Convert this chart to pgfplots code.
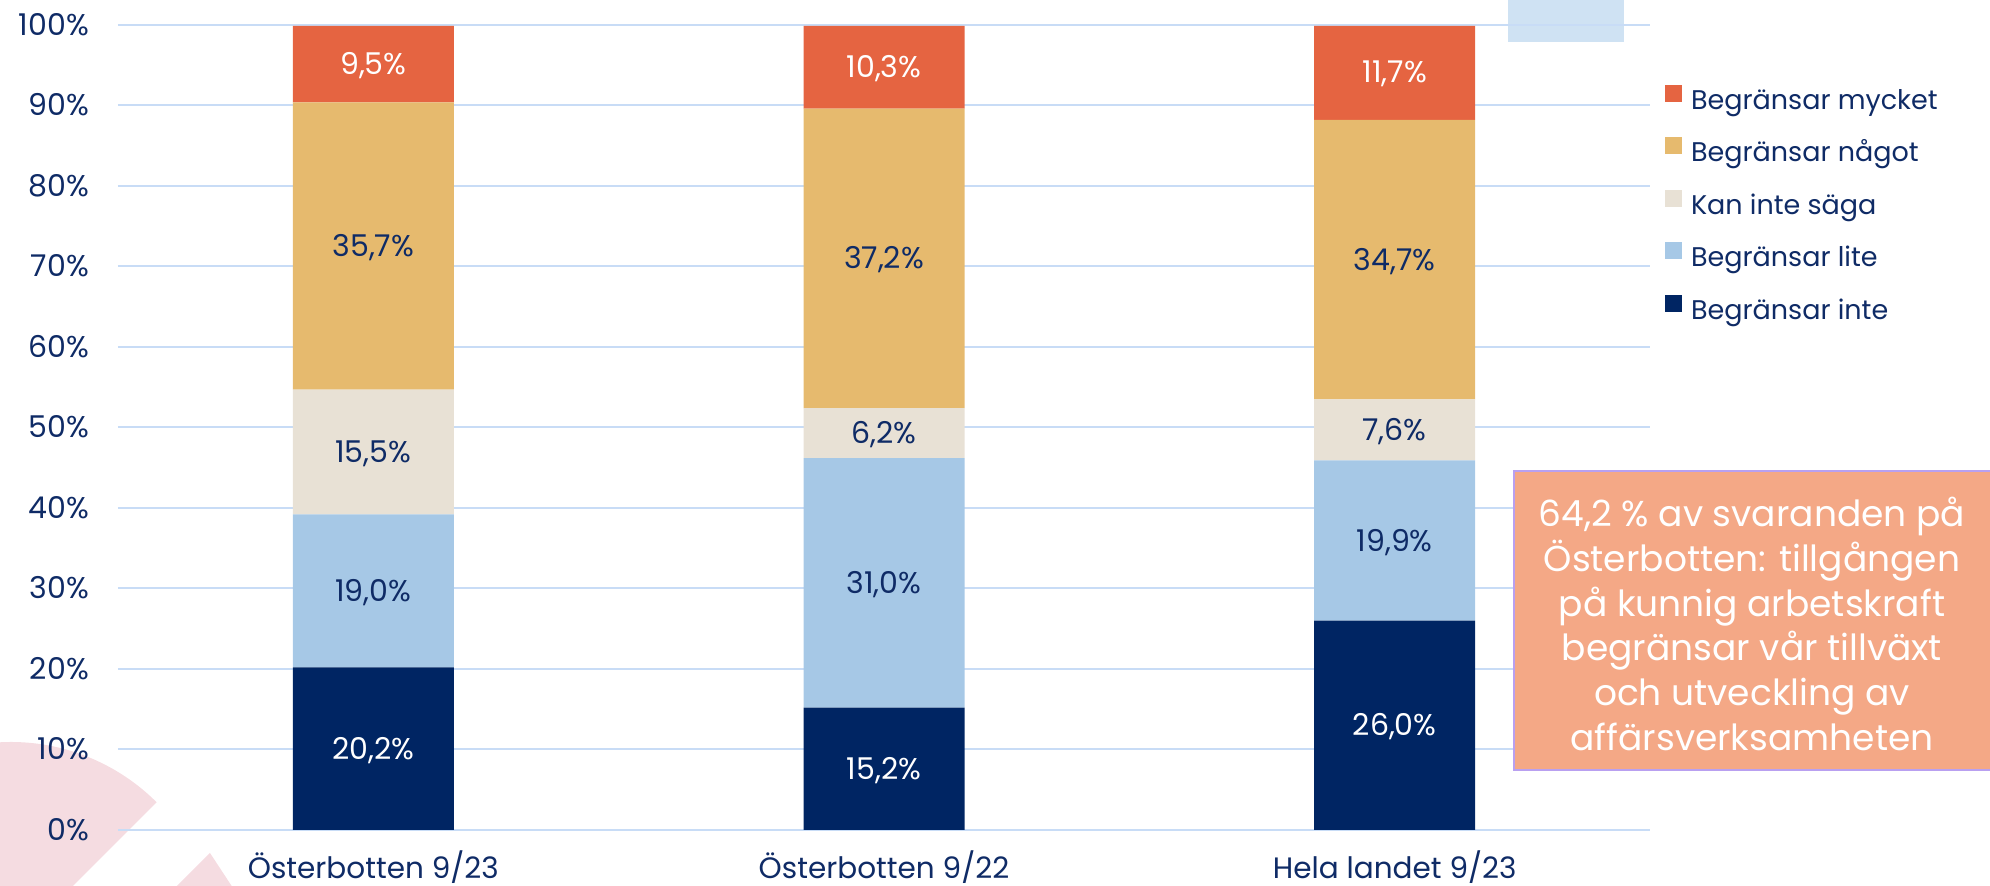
\documentclass[border=0pt]{standalone}
\usepackage{pgfplots}
\pgfplotsset{compat=1.18}
\usepackage{fontspec}
\setmainfont{Poppins}
\definecolor{cMycket}{RGB}{229,100,65}
\definecolor{cNagot}{RGB}{230,186,110}
\definecolor{cKan}{RGB}{232,225,213}
\definecolor{cLite}{RGB}{166,200,230}
\definecolor{cInte}{RGB}{0,37,99}
\definecolor{cText}{RGB}{15,43,102}
\definecolor{cGrid}{RGB}{200,220,246}
\definecolor{cPink}{RGB}{245,220,225}
\definecolor{cRect}{RGB}{207,226,243}
\definecolor{cBox}{RGB}{244,168,134}
\definecolor{cBoxLine}{RGB}{185,160,240}
\pgfplotsset{
  common/.style={
    at={(118pt,56pt)}, anchor=south west,
    width=1532pt, height=805pt, scale only axis,
    xmin=-0.5, xmax=2.5, ymin=0, ymax=100, clip=false,
  },
  lbl/.style={only marks, mark=none, nodes near coords, point meta=explicit symbolic,
    every node near coord/.append style={anchor=center, text=#1,
      font=\fontsize{30}{36}\selectfont, inner sep=0pt, text height=21pt, text depth=0pt}},
}
\begin{document}
\begin{tikzpicture}[x=1pt,y=1pt]
\useasboundingbox (0,0) rectangle (1990,886);
\fill[cPink] (11,-62) -- ++(45:206) arc[start angle=45,end angle=100,radius=206] -- cycle;
\fill[cPink] (210,33) -- (143,-34) -- (254,-34) -- cycle;
\fill[cRect] (1508,844) rectangle (1624,890);
\begin{axis}[common,
  ybar stacked, bar width=161pt, bar shift=0pt,
  axis line style={draw=none}, major tick length=0pt,
  ytick={0,10,20,30,40,50,60,70,80,90,100},
  yticklabels={0\%,10\%,20\%,30\%,40\%,50\%,60\%,70\%,80\%,90\%,100\%},
  ymajorgrids, grid style={line width=2pt, cGrid},
  xtick={0,1,2},
  xticklabels={Österbotten 9/23,Österbotten 9/22,Hela landet 9/23},
  yticklabel style={anchor=east, inner sep=0pt, xshift=-29pt,
    font=\fontsize{30}{36}\selectfont, text=cText, text height=21pt, text depth=0pt},
  xticklabel style={anchor=center, inner sep=0pt, yshift=-39pt,
    font=\fontsize{29.5}{35}\selectfont, text=cText, text height=20pt, text depth=0pt},
  legend style={at={(1.00979,0.92547)}, anchor=north west, draw=none, fill=none,
    inner sep=0pt, outer sep=0pt, font=\fontsize{27}{32}\selectfont, text=cText,
    nodes={inner sep=0pt, text height=20pt, text depth=7pt},
    row sep=21pt, column sep=9pt, cells={anchor=west}},
  legend cell align=left,
  reverse legend,
  legend image code/.code={\fill[#1] (0pt,1pt) rectangle (17pt,18pt);},
]
\addplot[fill=cInte, draw=none] coordinates {(0,20.2) (1,15.2) (2,26.0)};
\addplot[fill=cLite, draw=none] coordinates {(0,19.0) (1,31.0) (2,19.9)};
\addplot[fill=cKan, draw=none] coordinates {(0,15.5) (1,6.2) (2,7.6)};
\addplot[fill=cNagot, draw=none] coordinates {(0,35.7) (1,37.2) (2,34.7)};
\addplot[fill=cMycket, draw=none] coordinates {(0,9.5) (1,10.3) (2,11.7)};
\legend{Begränsar inte, Begränsar lite, Kan inte säga, Begränsar något, Begränsar mycket}
\end{axis}
\begin{axis}[common, hide axis]
\addplot[lbl=white] coordinates {(0,10.1)[20,2\%] (1,7.6)[15,2\%] (2,13.0)[26,0\%]};
\addplot[lbl=cText] coordinates {(0,29.7)[19,0\%] (1,30.7)[31,0\%] (2,35.95)[19,9\%]};
\addplot[lbl=cText] coordinates {(0,46.95)[15,5\%] (1,49.3)[6,2\%] (2,49.7)[7,6\%]};
\addplot[lbl=cText] coordinates {(0,72.55)[35,7\%] (1,71.0)[37,2\%] (2,70.85)[34,7\%]};
\addplot[lbl=white] coordinates {(0,95.15)[9,5\%] (1,94.75)[10,3\%] (2,94.15)[11,7\%]};
\end{axis}
\draw[fill=cBox, draw=cBoxLine, line width=2pt] (1514,116) rectangle (1996,415);
\node[align=center, text=white, font=\fontsize{36}{44.8}\selectfont, inner sep=0pt] at (1752,262)
  {64,2 \% av svaranden på\\Österbotten: tillgången\\på kunnig arbetskraft\\begränsar vår tillväxt\\och utveckling av\\affärsverksamheten};
\end{tikzpicture}
\end{document}
